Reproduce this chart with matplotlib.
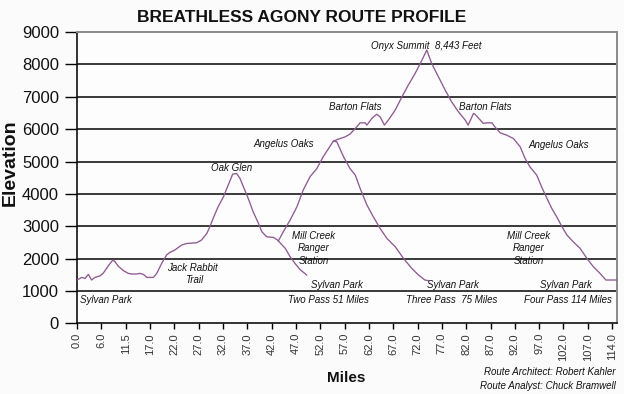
import numpy as np
import matplotlib
matplotlib.use("Agg")
import matplotlib.pyplot as plt

plt.rcParams['font.family'] = ['Liberation Sans', 'DejaVu Sans']

# ---- data -------------------------------------------------------------
tick_labels = ["0.0", "6.0", "11.5", "17.0", "22.0", "27.0", "32.0", "37.0", "42.0",
               "47.0", "52.0", "57.0", "62.0", "67.0", "72.0", "77.0", "82.0", "87.0",
               "92.0", "97.0", "102.0", "107.0", "114.0"]
tick_miles = [float(t) for t in tick_labels]

# Two Pass: Sylvan Park -> Jack Rabbit Trail -> Oak Glen -> Mill Creek -> Sylvan Park
pass2_miles = [0.0, 1.2, 2.0, 2.8, 3.6, 4.4, 5.7, 6.4, 7.2, 8.0, 8.6, 9.1, 9.8, 11.0,
               12.1, 12.9, 14.0, 14.7, 15.5, 16.3, 17.7, 18.4, 19.4, 20.4, 21.1, 22.1,
               23.5, 24.6, 26.6, 27.6, 28.7, 29.3, 30.0, 31.0, 32.1, 32.8, 33.5, 34.0,
               34.8, 35.5, 36.2, 37.2, 38.2, 39.3, 40.0, 41.0, 42.4, 43.2, 44.8, 45.8,
               46.8, 47.8, 49.2]
pass2_elev = [1340, 1420, 1390, 1515, 1340, 1420, 1470, 1545, 1700, 1855, 1955, 1905,
              1770, 1630, 1545, 1525, 1525, 1545, 1515, 1420, 1420, 1545, 1855, 2110,
              2195, 2265, 2420, 2470, 2490, 2575, 2780, 2985, 3250, 3600, 3910, 4170,
              4425, 4610, 4630, 4480, 4220, 3860, 3450, 3090, 2830, 2675, 2655, 2575,
              2320, 2060, 1855, 1670, 1495]

# Three Pass: Mill Creek -> Angelus Oaks -> Sylvan Park
pass3_miles = [43.4, 44.4, 45.8, 47.2, 48.5, 49.9, 51.3, 52.6, 53.7, 54.7, 55.4, 56.8,
               58.1, 59.2, 60.2, 61.6, 62.9, 64.3, 65.7, 67.4, 69.1, 70.8, 72.2, 73.5,
               74.2]
pass3_elev = [2550, 2830, 3190, 3600, 4120, 4530, 4785, 5145, 5400, 5630, 5610, 5145,
              4785, 4580, 4170, 3655, 3295, 2935, 2625, 2370, 2010, 1700, 1495, 1340,
              1320]

# Four Pass: Angelus Oaks -> Barton Flats -> Onyx Summit -> back down to Sylvan Park
pass4_miles = [54.7, 56.1, 57.1, 58.1, 59.2, 60.2, 61.2, 61.6, 62.6, 63.6, 64.3, 65.2,
               66.0, 67.4, 68.8, 70.1, 71.5, 72.9, 73.9, 74.9, 76.3, 77.7, 79.0, 80.4,
               81.8, 82.4, 83.5, 83.8, 84.9, 85.5, 86.2, 87.3, 87.9, 89.0, 90.3, 91.7,
               93.1, 94.1, 95.1, 96.5, 97.5, 98.6, 99.6, 100.6, 101.7, 102.7, 104.0,
               105.4, 106.8, 108.6, 110.5, 112.2, 115.3]
pass4_elev = [5630, 5710, 5760, 5845, 6020, 6195, 6195, 6125, 6330, 6460, 6380, 6125,
              6280, 6585, 7000, 7360, 7720, 8130, 8443, 8030, 7615, 7200, 6845, 6535,
              6280, 6125, 6485, 6460, 6280, 6175, 6195, 6195, 6070, 5885, 5815, 5710,
              5455, 5095, 4835, 4580, 4220, 3860, 3550, 3295, 2985, 2730, 2520, 2320,
              2010, 1750, 1545, 1340, 1340]

y_ticks = [0, 1000, 2000, 3000, 4000, 5000, 6000, 7000, 8000, 9000]

# (label, mile, elevation, horizontal alignment)
annotations = [
    ("Sylvan Park", 0.7, 722, "left"),
    ("Jack Rabbit", 25.7, 1710, "center"),
    ("Trail", 26.0, 1340, "center"),
    ("Oak Glen", 33.7, 4796, "center"),
    ("Angelus Oaks", 44.4, 5537, "center"),
    ("Barton Flats", 59.2, 6688, "center"),
    ("Onyx Summit  8,443 Feet", 73.7, 8556, "center"),
    ("Barton Flats", 85.9, 6688, "center"),
    ("Angelus Oaks", 101.1, 5506, "center"),
    ("Mill Creek\nRanger\nStation", 50.6, 2318, "center"),
    ("Mill Creek\nRanger\nStation", 94.9, 2318, "center"),
    ("Sylvan Park", 55.5, 1185, "center"),
    ("Sylvan Park", 79.2, 1185, "center"),
    ("Sylvan Park", 102.6, 1185, "center"),
    ("Two Pass 51 Miles", 53.6, 722, "center"),
    ("Three Pass  75 Miles", 79.1, 722, "center"),
    ("Four Pass 114 Miles", 102.9, 722, "center"),
]

# ---- helpers ------------------------------------------------------------
tick_pos = np.arange(len(tick_miles))


def to_pos(m):
    m = np.asarray(m, dtype=float)
    p = np.interp(m, tick_miles, tick_pos)
    hi = m > tick_miles[-1]
    step = tick_miles[-1] - tick_miles[-2]
    p = np.where(hi, tick_pos[-1] + (m - tick_miles[-1]) / step, p)
    return p


# ---- figure -------------------------------------------------------------
fig = plt.figure(figsize=(6.24, 3.94), dpi=100, facecolor="#fbfbfb")
ax = fig.add_axes([77 / 624, 1 - 323.4 / 394, 540 / 624, 291.4 / 394])
ax.set_facecolor("#fdfdfd")

line_color = "#8e5a92"
for mi, el in [(pass2_miles, pass2_elev), (pass3_miles, pass3_elev), (pass4_miles, pass4_elev)]:
    ax.plot(to_pos(mi), el, color=line_color, lw=0.95, zorder=3)

ax.set_xlim(0, 22.2)
ax.set_ylim(0, 9000)

ax.set_yticks(y_ticks)
ax.set_yticklabels([str(v) for v in y_ticks], fontsize=12, color="#111111")
ax.set_xticks(tick_pos)
ax.set_xticklabels(tick_labels, rotation=90, fontsize=8, color="#333333")

ax.tick_params(axis="y", length=9, width=1.0, pad=4, direction="out")
ax.tick_params(axis="x", length=4, width=1.0, pad=3, direction="out")

for v in y_ticks[1:-1]:
    ax.axhline(v, color="#2a2a2a", lw=1.3, zorder=1)

ax.spines["left"].set_color("#111111")
ax.spines["bottom"].set_color("#111111")
ax.spines["left"].set_linewidth(1.2)
ax.spines["bottom"].set_linewidth(1.2)
ax.spines["top"].set_color("#8a8a8a")
ax.spines["right"].set_color("#8a8a8a")
ax.spines["top"].set_linewidth(1.4)
ax.spines["right"].set_linewidth(1.4)

for label, mile, elev, ha in annotations:
    ax.text(float(to_pos(mile)), elev, label, ha=ha, va="center", fontsize=7,
            style="italic", color="#111111", linespacing=1.3, zorder=4)

fig.text(302 / 624, 1 - 17 / 394, "BREATHLESS AGONY ROUTE PROFILE", ha="center",
         va="center", fontsize=12.5, fontweight="bold", color="#111111")
fig.text(2 / 624, 1 - 163 / 394, "Elevation", rotation=90, ha="left", va="center",
         fontsize=14, fontweight="bold", color="#111111")
fig.text(346 / 624, 1 - 378 / 394, "Miles", ha="center", va="center", fontsize=11,
         fontweight="bold", color="#111111")
fig.text(616 / 624, 1 - 372 / 394, "Route Architect: Robert Kahler", ha="right",
         va="center", fontsize=7, style="italic", color="#111111")
fig.text(616 / 624, 1 - 386 / 394, "Route Analyst: Chuck Bramwell", ha="right",
         va="center", fontsize=7, style="italic", color="#111111")

fig.savefig("out.png", dpi=100, facecolor=fig.get_facecolor())
